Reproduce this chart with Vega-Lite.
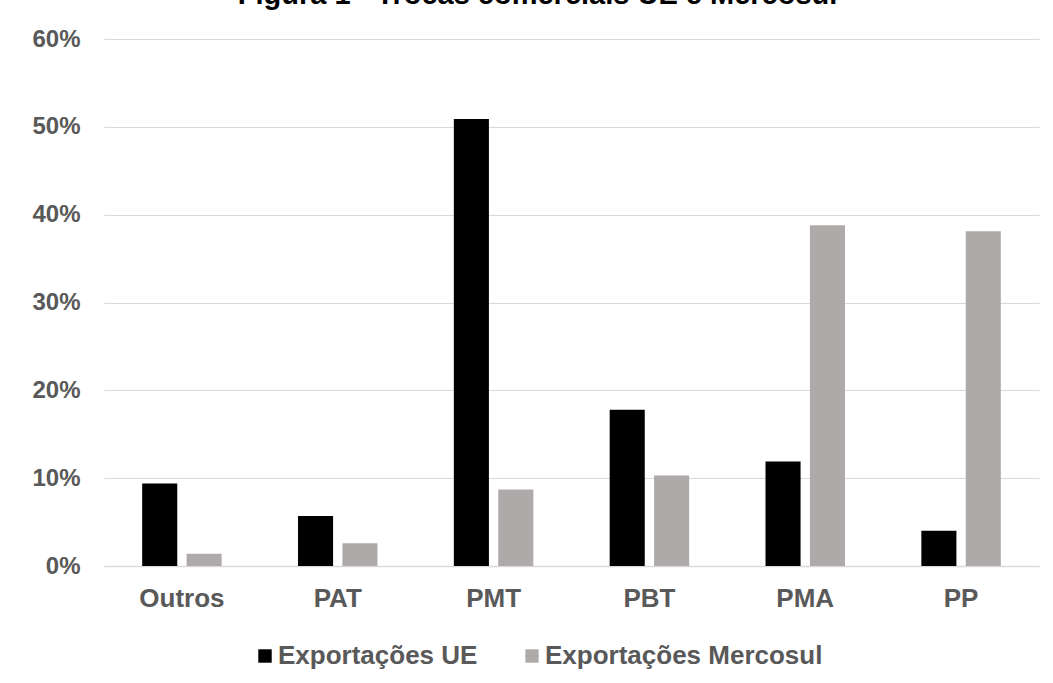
{
  "$schema": "https://vega.github.io/schema/vega-lite/v6.json",
  "autosize": {"type": "none"},
  "width": 935,
  "height": 527,
  "padding": {"left": 104, "top": 39, "right": 14, "bottom": 117},
  "background": "white",
  "title": {
    "text": "Figura 1 - Trocas comerciais UE e Mercosul",
    "font": "Liberation Sans",
    "fontSize": 29,
    "fontWeight": "bold",
    "color": "#000000",
    "anchor": "middle",
    "frame": "group",
    "baseline": "alphabetic",
    "offset": 0,
    "dx": -34,
    "dy": 6
  },
  "data": {
    "values": [
      {"categoria": "Outros", "serie": "Exportações UE", "valor": 0.094},
      {"categoria": "Outros", "serie": "Exportações Mercosul", "valor": 0.014},
      {"categoria": "PAT", "serie": "Exportações UE", "valor": 0.057},
      {"categoria": "PAT", "serie": "Exportações Mercosul", "valor": 0.026},
      {"categoria": "PMT", "serie": "Exportações UE", "valor": 0.509},
      {"categoria": "PMT", "serie": "Exportações Mercosul", "valor": 0.087},
      {"categoria": "PBT", "serie": "Exportações UE", "valor": 0.178},
      {"categoria": "PBT", "serie": "Exportações Mercosul", "valor": 0.103},
      {"categoria": "PMA", "serie": "Exportações UE", "valor": 0.119},
      {"categoria": "PMA", "serie": "Exportações Mercosul", "valor": 0.388},
      {"categoria": "PP", "serie": "Exportações UE", "valor": 0.040},
      {"categoria": "PP", "serie": "Exportações Mercosul", "valor": 0.381}
    ]
  },
  "mark": {"type": "bar"},
  "encoding": {
    "x": {
      "field": "categoria",
      "type": "nominal",
      "sort": ["Outros", "PAT", "PMT", "PBT", "PMA", "PP"],
      "scale": {"paddingInner": 0.49, "paddingOuter": 0.245},
      "axis": {
        "title": null,
        "labelAngle": 0,
        "labelFont": "Liberation Sans",
        "labelFontSize": 26,
        "labelFontWeight": "bold",
        "labelColor": "#595959",
        "labelPadding": 19,
        "ticks": false,
        "domainColor": "#D9D9D9",
        "domainWidth": 1.5,
        "grid": false
      }
    },
    "xOffset": {
      "field": "serie",
      "type": "nominal",
      "sort": ["Exportações UE", "Exportações Mercosul"],
      "scale": {"paddingInner": 0.21, "paddingOuter": 0}
    },
    "y": {
      "field": "valor",
      "type": "quantitative",
      "scale": {"domain": [0, 0.6], "nice": false},
      "axis": {
        "title": null,
        "format": ".0%",
        "values": [0, 0.1, 0.2, 0.3, 0.4, 0.5, 0.6],
        "labelFont": "Liberation Sans",
        "labelFontSize": 24,
        "labelFontWeight": "bold",
        "labelColor": "#595959",
        "labelPadding": 24,
        "ticks": false,
        "domain": false,
        "gridColor": "#D9D9D9",
        "gridWidth": 1.2
      }
    },
    "color": {
      "field": "serie",
      "type": "nominal",
      "sort": ["Exportações UE", "Exportações Mercosul"],
      "scale": {"domain": ["Exportações UE", "Exportações Mercosul"], "range": ["#000000", "#AEAAAA"]},
      "legend": {
        "title": null,
        "orient": "none",
        "legendX": 148,
        "legendY": 604,
        "direction": "horizontal",
        "symbolType": "square",
        "symbolSize": 180,
        "symbolStrokeWidth": 0,
        "labelFont": "Liberation Sans",
        "labelFontSize": 26,
        "labelFontWeight": "bold",
        "labelColor": "#595959",
        "labelOffset": 0,
        "columnPadding": 41,
        "labelLimit": 400
      }
    }
  },
  "config": {
    "view": {"stroke": null}
  }
}
